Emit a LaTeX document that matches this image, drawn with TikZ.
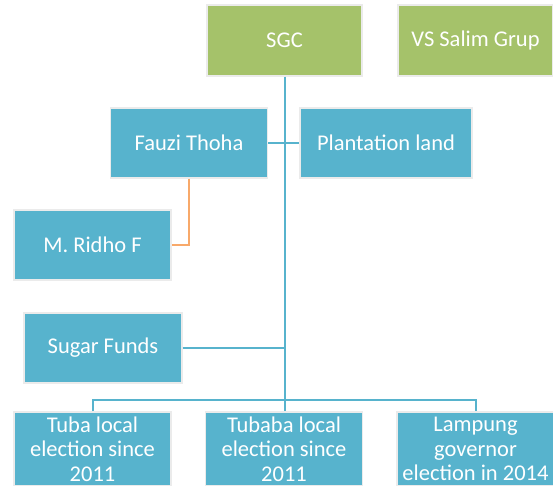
\documentclass[tikz,border=0pt]{standalone}
\usepackage{fontspec}
\setmainfont{Carlito}
\usetikzlibrary{positioning}
\definecolor{boxgreen}{HTML}{A5C26A}
\definecolor{boxblue}{HTML}{57B3CD}
\definecolor{linkorange}{HTML}{F8A96A}

\begin{document}
\begin{tikzpicture}[x=1pt,y=-1pt,
  font=\fontsize{22.5}{24.5}\selectfont,
  every node/.style={align=center},
  top/.style={draw=black!8,line width=1.2pt,fill=boxgreen,text=white,
    minimum width=155pt,minimum height=71pt,inner sep=0pt},
  box/.style={top,fill=boxblue,minimum width=157pt,minimum height=70pt},
  link/.style={draw=boxblue,line width=2pt},
  side/.style={draw=linkorange,line width=2pt}]

  \useasboundingbox (0,0) rectangle (553,486);

  % Top row
  \node[top] (sgc) at (284.5,40.5) {SGC};
  \node[top] (salim) at (475.5,40.5) {VS Salim Grup};

  % Middle boxes
  \node[box] (fauzi) at (189,143) {Fauzi Thoha};
  \node[box,minimum width=172pt] (land) at (386,143) {Plantation land};
  \node[box] (ridho) at (92.5,245) {M. Ridho F};
  \node[box,minimum width=158pt] (sugar) at (103,348) {Sugar Funds};

  % Bottom row
  \node[box,minimum height=74pt] (tuba) at (92.5,449) {Tuba local\\election since\\2011};
  \node[box,minimum height=74pt] (tubaba) at (284,449) {Tubaba local\\election since\\2011};
  \node[box,minimum height=74pt] (lampung) at (475.5,449) {Lampung\\governor\\election in 2014};

  \coordinate (bus) at (284.5,400);

  % Connectors
  \draw[link] (sgc.south) -- (sgc.south |- tubaba.north);
  \draw[link] (fauzi.east) -- (land.west);
  \draw[side] (fauzi.south) |- (ridho.east);
  \draw[link] (sugar.east) -- (sugar.east -| sgc.south);
  \draw[link] (tuba.north) |- (bus) -| (lampung.north);
\end{tikzpicture}
\end{document}
